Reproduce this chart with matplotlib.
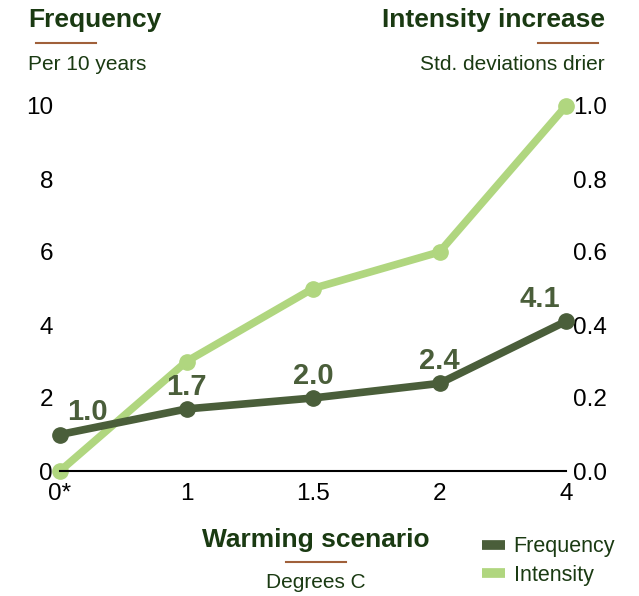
import numpy as np
import matplotlib.pyplot as plt
from matplotlib.lines import Line2D

plt.rcParams['font.family'] = ['Liberation Sans', 'DejaVu Sans']

# Daten
scenarios = ['0*', '1', '1.5', '2', '4']
frequency = [1.0, 1.7, 2.0, 2.4, 4.1]     # per 10 years
intensity = [0.0, 0.3, 0.5, 0.6, 1.0]     # std. deviations drier
freq_ticks = [0, 2, 4, 6, 8, 10]
int_ticks = [0.0, 0.2, 0.4, 0.6, 0.8, 1.0]

dark = '#4a5e3a'
light = '#b0d67f'
title_col = '#1a3a12'
brown = '#a0603a'

W, H = 639, 596
fig = plt.figure(figsize=(W/100, H/100), dpi=100)
ax = fig.add_axes([60/W, (H-471)/H, (566-60)/W, (471-106)/H])
ax2 = ax.twinx()

x = np.arange(len(scenarios))
ax2.plot(x, intensity, color=light, lw=5.5, marker='o', ms=11, clip_on=False, zorder=3)
ax.plot(x, frequency, color=dark, lw=5.5, marker='o', ms=11, clip_on=False, zorder=3)
ax.set_zorder(ax2.get_zorder() + 1)
ax.patch.set_visible(False)

ax.set_xlim(0, len(scenarios) - 1)
ax.set_ylim(0, 10)
ax2.set_ylim(0, 1)
ax.set_xticks(x)
ax.set_xticklabels(scenarios)
ax.set_yticks(freq_ticks)
ax2.set_yticks(int_ticks)
ax2.set_yticklabels(['%.1f' % t for t in int_ticks])

for a in (ax, ax2):
    for s in ['top', 'left', 'right', 'bottom']:
        a.spines[s].set_visible(False)
    a.tick_params(length=0, labelsize=17.5, colors='black')
ax.spines['bottom'].set_visible(True)
ax.spines['bottom'].set_linewidth(1.5)
ax.tick_params(axis='y', pad=5)
ax2.tick_params(axis='y', pad=5)
ax.tick_params(axis='x', pad=9)

# Wertebeschriftung
offsets = [(27, 22), (0, 22), (0, 22), (0, 22), (-26, 22)]
for xi, v, off in zip(x, frequency, offsets):
    ax.annotate('%.1f' % v, (xi, v), xytext=off, textcoords='offset pixels',
                ha='center', va='center', fontsize=21, fontweight='bold',
                color=dark, zorder=5)

# Titel
fig.text(28/W, 1 - 20/H, 'Frequency', ha='left', va='center', fontsize=19,
         fontweight='bold', color=title_col)
fig.add_artist(Line2D([36/W, 96/W], [1 - 43/H] * 2, color=brown, lw=1.5))
fig.text(28/W, 1 - 65/H, 'Per 10 years', ha='left', va='center', fontsize=15,
         color=title_col)

fig.text(605/W, 1 - 20/H, 'Intensity increase', ha='right', va='center', fontsize=19,
         fontweight='bold', color=title_col)
fig.add_artist(Line2D([538/W, 598/W], [1 - 43/H] * 2, color=brown, lw=1.5))
fig.text(605/W, 1 - 65/H, 'Std. deviations drier', ha='right', va='center', fontsize=15,
         color=title_col)

fig.text(316/W, 1 - 540/H, 'Warming scenario', ha='center', va='center', fontsize=19,
         fontweight='bold', color=title_col)
fig.add_artist(Line2D([286/W, 346/W], [1 - 562/H] * 2, color=brown, lw=1.5))
fig.text(316/W, 1 - 582/H, 'Degrees C', ha='center', va='center', fontsize=15,
         color=title_col)

# Legende
handles = [Line2D([], [], color=dark, lw=7, solid_capstyle='butt'),
           Line2D([], [], color=light, lw=7, solid_capstyle='butt')]
leg = fig.legend(handles, ['Frequency', 'Intensity'], loc='center left',
                 bbox_to_anchor=(463/W, 1 - 561/H), frameon=False, fontsize=15.5,
                 handlelength=1.05, handletextpad=0.4, labelspacing=0.35)
for t in leg.get_texts():
    t.set_color(title_col)

fig.savefig('out.png', dpi=100)
